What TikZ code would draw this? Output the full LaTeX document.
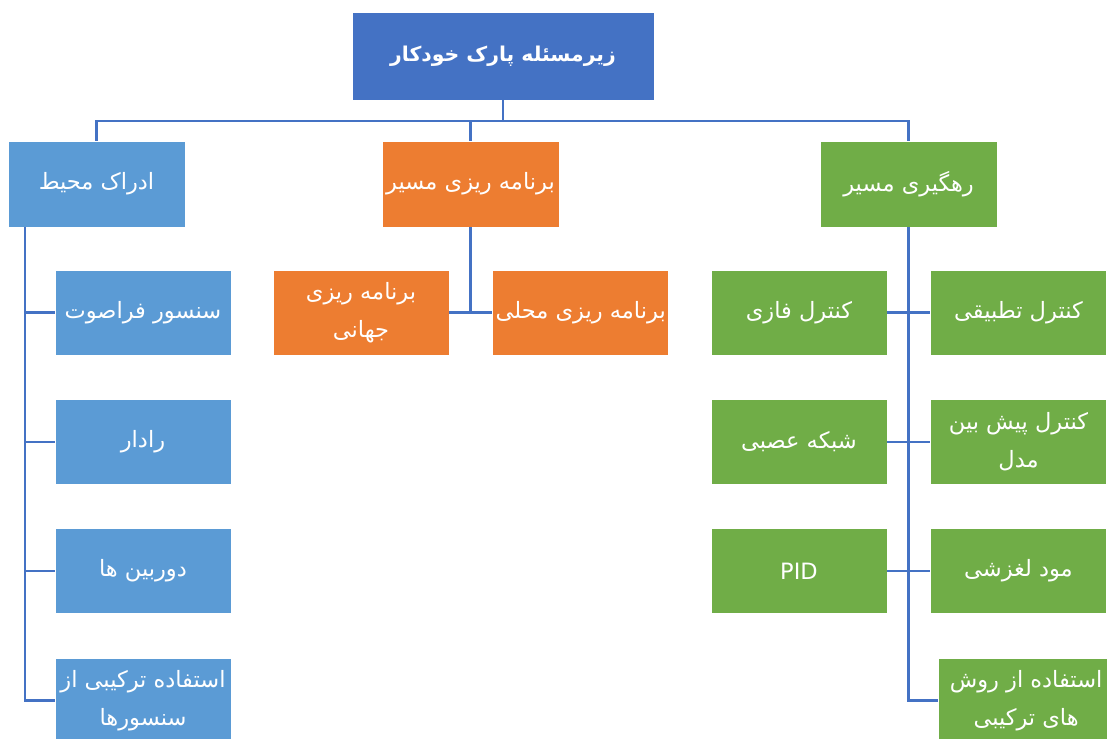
\documentclass[tikz,border=0pt]{standalone}
\usepackage{fontspec}
\setmainfont{DejaVu Sans}
\newfontfamily\arabicfont[Script=Arabic]{DejaVu Sans}
\TeXXeTstate=1
\usetikzlibrary{positioning}
\definecolor{rootblue}{HTML}{4472C4}
\definecolor{percblue}{HTML}{5B9BD5}
\definecolor{planorange}{HTML}{ED7D31}
\definecolor{trackgreen}{HTML}{70AD47}
\newcommand{\fa}[1]{{\arabicfont\beginR #1\endR}}

\begin{document}
\begin{tikzpicture}[node distance=1.09cm,
  box/.style={rectangle,draw=white,line width=0.5pt,minimum width=4.4cm,minimum height=2.125cm,align=center,text=white,inner sep=1pt,font=\fontsize{16}{27}\selectfont},
  headbox/.style={box,minimum width=4.425cm,minimum height=2.15cm},
  link/.style={draw=rootblue,line width=1.8pt}]
  \useasboundingbox (0,0) rectangle (27.675,-18.475);
  % top level
  \node[box,fill=rootblue,minimum width=7.55cm,minimum height=2.2cm,font=\fontsize{14.5}{27}\selectfont\bfseries] (root) at (12.575,-1.4) {\fa{زیرمسئله پارک خودکار}};
  \node[headbox,fill=percblue] (perc) at (2.4125,-4.6) {\fa{ادراک محیط}};
  \node[headbox,fill=planorange] (plan) at (11.7625,-4.6) {\fa{برنامه ریزی مسیر}};
  \node[headbox,fill=trackgreen] (track) at (22.7125,-4.6) {\fa{رهگیری مسیر}};
  \coordinate (bus) at (0,-3.025);
  \draw[link] (root.south) -- (root.south |- bus) -| (perc.north);
  \draw[link] (root.south) -- (root.south |- bus) -| (plan.north);
  \draw[link] (root.south) -- (root.south |- bus) -| (track.north);
  % perception
  \node[box,fill=percblue] (sonar) at (3.575,-7.8125) {\fa{سنسور فراصوت}};
  \node[box,fill=percblue,below=of sonar] (radar) {\fa{رادار}};
  \node[box,fill=percblue,below=of radar] (camera) {\fa{دوربین ها}};
  \node[box,fill=percblue,below=of camera] (fusion) {\fa{استفاده ترکیبی از}\\\fa{سنسورها}};
  \coordinate (spineL) at (0.625,0);
  \draw[link] (perc.south -| spineL) |- (fusion.west);
  \foreach \n in {sonar,radar,camera}
    \draw[link] (\n.west) -- (\n.west -| spineL);
  % planning
  \node[box,fill=planorange] (global) at (9.025,-7.8125) {\fa{برنامه ریزی}\\\fa{جهانی}};
  \node[box,fill=planorange,right=1.075cm of global] (local) {\fa{برنامه ریزی محلی}};
  \draw[link] (plan.south) -- (plan.south |- global.east);
  \draw[link] (global.east) -- (local.west);
  % tracking
  \node[box,fill=trackgreen] (fuzzy) at (19.975,-7.8125) {\fa{کنترل فازی}};
  \node[box,fill=trackgreen,below=of fuzzy] (neural) {\fa{شبکه عصبی}};
  \node[box,fill=trackgreen,below=of neural] (pid) {PID};
  \node[box,fill=trackgreen] (adaptive) at (25.4625,-7.8125) {\fa{کنترل تطبیقی}};
  \node[box,fill=trackgreen,below=of adaptive] (mpc) {\fa{کنترل پیش بین}\\\fa{مدل}};
  \node[box,fill=trackgreen,below=of mpc] (smc) {\fa{مود لغزشی}};
  \node[box,fill=trackgreen,below=of smc,xshift=0.19cm] (hybrid) {\fa{استفاده از روش}\\\fa{های ترکیبی}};
  \draw[link] (track.south) |- (hybrid.west);
  \draw[link] (fuzzy.east) -- (adaptive.west);
  \draw[link] (neural.east) -- (mpc.west);
  \draw[link] (pid.east) -- (smc.west);
\end{tikzpicture}
\end{document}
